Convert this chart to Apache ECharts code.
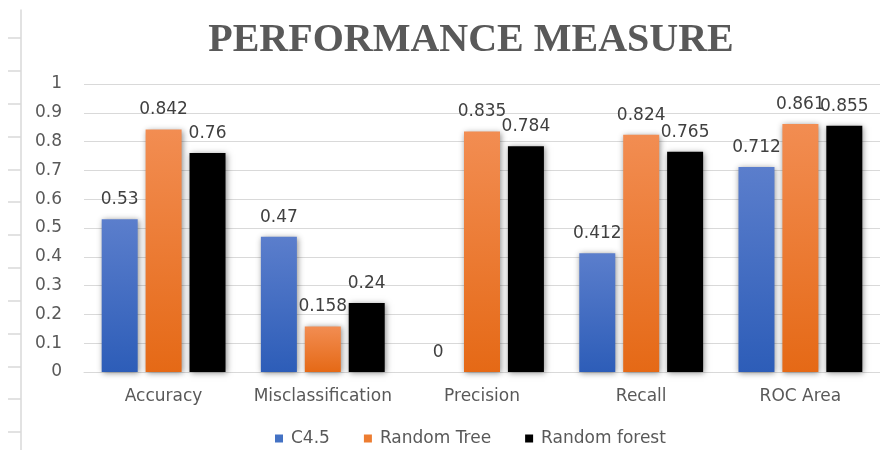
<!DOCTYPE html>
<html>
<head>
<meta charset="utf-8">
<script src="https://cdn.jsdelivr.net/npm/echarts@6/dist/echarts.min.js"></script>
<style>
  html, body { margin: 0; padding: 0; background: #ffffff; }
  #chart { width: 880px; height: 450px; }
</style>
</head>
<body>
<div id="chart"></div>
<script>
// Measures compared across the three classifiers
const categories = ['Accuracy', 'Misclassification', 'Precision', 'Recall', 'ROC Area'];
const c45 = [0.53, 0.47, 0, 0.412, 0.712];
const randomTree = [0.842, 0.158, 0.835, 0.824, 0.861];
const randomForest = [0.76, 0.24, 0.784, 0.765, 0.855];
const seriesNames = ['C4.5', 'Random Tree', 'Random forest'];

// Tick marks of the outer frame rule on the far left
const frameTicks = [0.85, 1.85, 2.85, 3.85, 4.85, 5.85, 6.85, 7.85, 8.85, 9.85, 10.85, 11.85, 12.85];

const textGray = '#595959';
const gridGray = '#d9d9d9';

function vGrad(top, bottom) {
  return new echarts.graphic.LinearGradient(0, 0, 0, 1, [
    { offset: 0, color: top },
    { offset: 1, color: bottom }
  ]);
}

const barShadow = {
  shadowBlur: 6,
  shadowColor: 'rgba(0,0,0,0.45)',
  shadowOffsetX: 1,
  shadowOffsetY: 1
};

function barSeries(name, values, fill) {
  return {
    name: name,
    type: 'bar',
    data: values,
    barWidth: 36,
    barGap: '22%',
    itemStyle: Object.assign({ color: fill }, barShadow),
    label: {
      show: true,
      position: 'top',
      distance: 11,
      color: '#404040',
      fontFamily: 'DejaVu Sans',
      fontSize: 17,
      formatter: function (p) { return String(p.value); }
    }
  };
}

const chart = echarts.init(document.getElementById('chart'), null, { renderer: 'canvas' });

chart.setOption({
  animation: false,
  backgroundColor: '#ffffff',
  title: {
    text: 'PERFORMANCE MEASURE',
    left: 466,
    textAlign: 'center',
    top: 16,
    textStyle: {
      fontFamily: 'Liberation Serif',
      fontWeight: 'bold',
      fontSize: 40,
      color: textGray
    }
  },
  legend: {
    bottom: -2,
    left: 270,
    itemWidth: 8,
    itemHeight: 8,
    itemGap: 34,
    icon: 'rect',
    textStyle: { fontFamily: 'DejaVu Sans', fontSize: 17, color: textGray, padding: [0, 0, 0, 3] },
    data: [
      { name: seriesNames[0], itemStyle: { color: '#4472C4', shadowBlur: 0 } },
      { name: seriesNames[1], itemStyle: { color: '#ED7D31', shadowBlur: 0 } },
      { name: seriesNames[2], itemStyle: { color: '#000000', shadowBlur: 0 } }
    ]
  },
  grid: [
    { left: 84, right: -9, top: 84, bottom: 78 },
    { left: 21, width: 1, top: 10, bottom: 0 }
  ],
  xAxis: [
    {
      type: 'category',
      data: categories,
      gridIndex: 0,
      axisLine: { show: true, lineStyle: { color: gridGray, width: 1 } },
      axisTick: { show: false },
      axisLabel: {
        interval: 0,
        color: textGray,
        fontFamily: 'DejaVu Sans',
        fontSize: 17,
        margin: 16
      }
    },
    { type: 'value', gridIndex: 1, show: false }
  ],
  yAxis: [
    {
      type: 'value',
      gridIndex: 0,
      min: 0,
      max: 1,
      interval: 0.1,
      axisLine: { show: false },
      axisTick: { show: false },
      splitLine: { lineStyle: { color: gridGray, width: 1 } },
      axisLabel: {
        color: textGray,
        fontFamily: 'DejaVu Sans',
        fontSize: 17,
        margin: 22,
        formatter: function (v) { return String(Math.round(v * 10) / 10); }
      }
    },
    {
      type: 'value',
      gridIndex: 1,
      inverse: true,
      min: 0,
      max: 13.4,
      position: 'left',
      axisLine: { show: true, lineStyle: { color: gridGray, width: 1.5 } },
      axisTick: {
        show: true,
        length: 13,
        customValues: frameTicks,
        lineStyle: { color: gridGray, width: 1.5 }
      },
      axisLabel: { show: false },
      splitLine: { show: false }
    }
  ],
  series: [
    barSeries(seriesNames[0], c45, vGrad('#5B7ECC', '#2D5DB8')),
    barSeries(seriesNames[1], randomTree, vGrad('#F28D52', '#E56916')),
    barSeries(seriesNames[2], randomForest, '#000000')
  ]
});
</script>
</body>
</html>
